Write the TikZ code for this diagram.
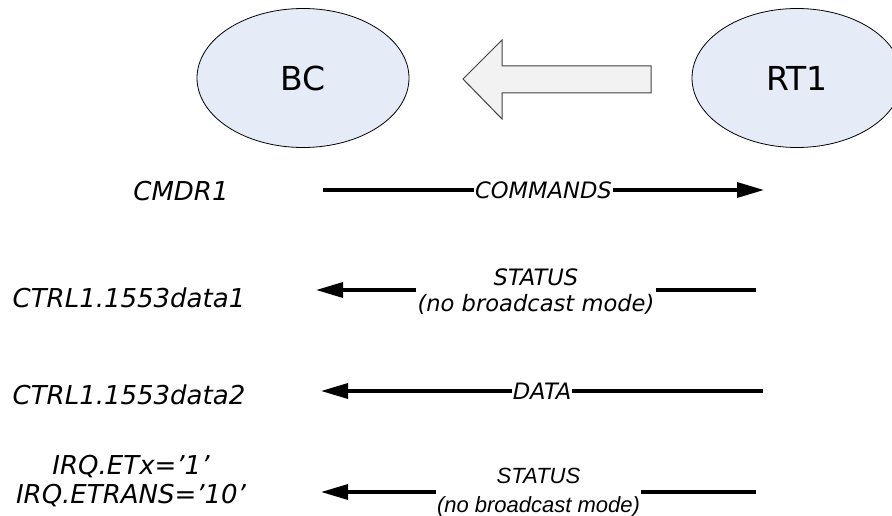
\documentclass[tikz,border=0pt]{standalone}
\usepackage{fontspec}
\setmainfont{DejaVu Sans}
\newfontfamily\arialfont{Liberation Sans}
\usetikzlibrary{shapes.geometric,arrows.meta,calc}
\definecolor{ellfill}{HTML}{E6ECF7}
\definecolor{blockfill}{HTML}{F2F2F2}
\definecolor{blockline}{HTML}{404040}
\tikzset{
  party/.style={ellipse, draw=black, line width=0.8pt, fill=ellfill, minimum width=212pt, minimum height=139pt, inner sep=0pt, font=\fontsize{33}{37}\selectfont},
  leftlbl/.style={inner sep=0pt, font=\fontsize{26}{29}\selectfont\itshape, align=center},
  msg/.style={line width=3.4pt, -{Triangle[length=27pt,width=15pt]}},
  plainline/.style={line width=3.4pt},
  msglbl/.style={inner sep=1pt, font=\fontsize{22.6}{26.5}\selectfont\itshape, align=center},
  msglblb/.style={inner sep=0.5pt, font=\fontsize{22}{28.5}\selectfont\arialfont\itshape, align=center},
}
\begin{document}
\begin{tikzpicture}[x=1pt,y=-1pt]
\useasboundingbox (0,0) rectangle (892,516);
% parties
\node[party] (bc) at (303,78) {BC};
\node[party, minimum width=210pt] (rt) at (797,78) {RT1};
% block arrow
\path[draw=blockline, line width=1pt, fill=blockfill, line join=miter]
  (651,66) -- (502,66) -- (502,40) -- (463,79) -- (502,119) -- (502,93) -- (651,93) -- cycle;
% left labels
\node[leftlbl] (l1) at (181,191) {CMDR1};
\node[leftlbl] (l2) at (129,298) {CTRL1.1553data1};
\node[leftlbl] (l3) at (129,395) {CTRL1.1553data2};
\node[leftlbl] (l4) at (131,481) {IRQ.ETx='1'\\IRQ.ETRANS='10'};
% endpoints
\coordinate (a1s) at (323,190); \coordinate (a1e) at (764,190);
\coordinate (a2s) at (756,290); \coordinate (a2e) at (316,290);
\coordinate (a3s) at (763,391); \coordinate (a3e) at (321,391);
\coordinate (a4s) at (756,492); \coordinate (a4e) at (321,492);
% message labels
\node[msglbl] (m1) at ($(a1s)!0.5!(a1e)$) {COMMANDS};
\node[msglbl] (m2) at ($(a2s)!0.5!(a2e)+(0,1.5)$) {STATUS\\(no broadcast mode)};
\node[msglbl] (m3) at ($(a3s)!0.5!(a3e)$) {DATA};
\node[msglblb] (m4) at ($(a4s)!0.5!(a4e)+(0,0.5)$) {STATUS\\(no broadcast mode)};
% messages
\draw[plainline] (a1s) -- (m1);
\draw[msg] (m1) -- (a1e);
\draw[plainline] (a2s) -- (a2s -| m2.east);
\draw[msg] (a2e -| m2.west) -- (a2e);
\draw[plainline] (a3s) -- (m3);
\draw[msg] (m3) -- (a3e);
\draw[plainline] (a4s) -- (a4s -| m4.east);
\draw[msg] (a4e -| m4.west) -- (a4e);
\end{tikzpicture}
\end{document}
